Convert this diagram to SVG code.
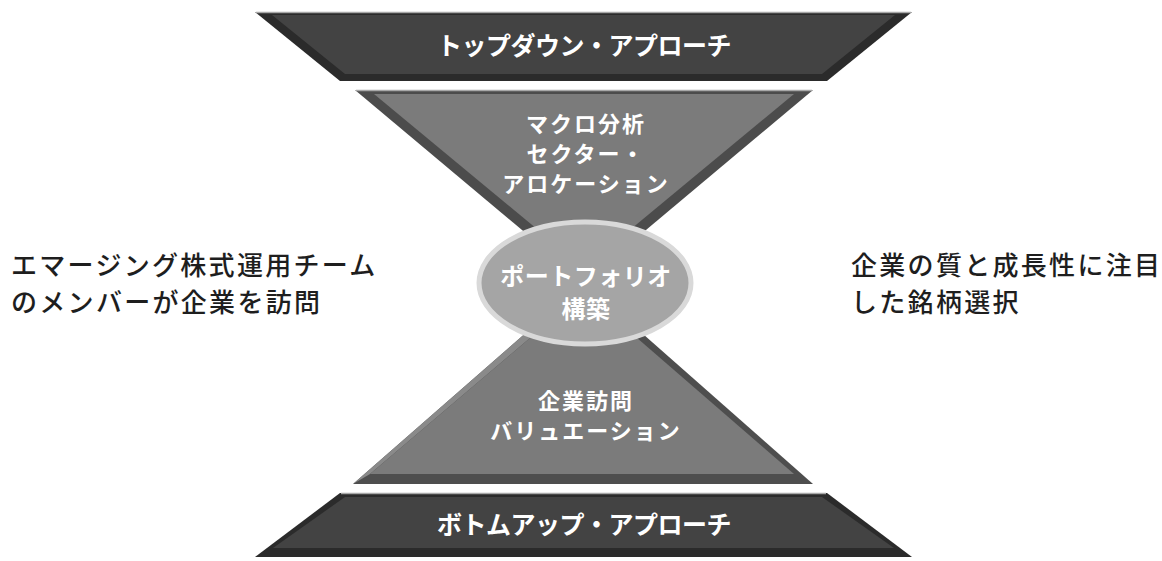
<svg xmlns="http://www.w3.org/2000/svg" width="1162" height="561" viewBox="0 0 1162 561">
  <style>
    .t { font-family: "Noto Sans CJK JP", "Liberation Sans", sans-serif; fill: #ffffff; font-weight: bold; text-anchor: middle; }
    .band { font-size: 25px; letter-spacing: -0.5px; }
    .mid { font-size: 22px; letter-spacing: 2px; }
    .core { font-size: 24px; letter-spacing: 0.5px; }
    .side { font-family: "Noto Sans CJK JP", "Liberation Sans", sans-serif; fill: #1e1e1e; font-size: 26px; letter-spacing: 2.3px; font-weight: 500; }
    .dark { fill: #2b2b2b; }
    .darkface { fill: #434343; }
    .midedge { fill: #4c4c4c; }
    .midface { fill: #7b7b7b; }
    .hl { stroke: #a8a8a8; stroke-width: 1.5; fill: none; }
  </style>
  <rect width="1162" height="561" fill="#ffffff"/>

  <g id="top-band">
    <polygon class="dark" points="255,12 912,12 827,81 340,81"/>
    <polygon class="darkface" points="272,15 895,15 822,74 345,74"/>
    <line class="hl" x1="256" y1="12.5" x2="911" y2="12.5"/>
    <text class="t band" x="584" y="55">トップダウン・アプローチ</text>
  </g>

  <g id="upper-triangle">
    <polygon class="midedge" points="355,90 813,90 584,282"/>
    <polygon class="midface" points="374,94 794,94 584,268"/>
    <line class="hl" x1="356" y1="90.5" x2="812" y2="90.5"/>
    <text class="t mid" x="586" y="132">マクロ分析</text>
    <text class="t mid" x="586" y="162">セクター・</text>
    <text class="t mid" x="586" y="192">アロケーション</text>
  </g>

  <g id="lower-triangle">
    <polygon fill="#4e4e4e" points="353,484 813,484 584,282"/>
    <polygon fill="#8a8a8a" points="353,484 370,474 584,292 584,282"/>
    <polygon class="midface" points="370,474 794,474 584,292"/>
    <text class="t mid" x="586" y="409">企業訪問</text>
    <text class="t mid" x="586" y="439">バリュエーション</text>
  </g>

  <g id="bottom-band">
    <polygon class="dark" points="340,493 827,493 912,557 255,557"/>
    <polygon class="darkface" points="345,497 822,497 894,548 273,548"/>
    <line class="hl" x1="341" y1="493.5" x2="826" y2="493.5"/>
    <text class="t band" x="584" y="534">ボトムアップ・アプローチ</text>
  </g>

  <g id="portfolio">
    <ellipse cx="585" cy="283" rx="106" ry="61" fill="#a5a5a5" stroke="#d9d9d9" stroke-width="5"/>
    <text class="t core" x="586" y="285">ポートフォリオ</text>
    <text class="t core" x="586" y="318">構築</text>
  </g>

  <g id="left-note">
    <text class="side" x="11" y="275">エマージング株式運用チーム</text>
    <text class="side" x="11" y="312">のメンバーが企業を訪問</text>
  </g>

  <g id="right-note">
    <text class="side" x="851" y="275">企業の質と成長性に注目</text>
    <text class="side" x="851" y="312">した銘柄選択</text>
  </g>

  <g id="connectors"/>
</svg>
